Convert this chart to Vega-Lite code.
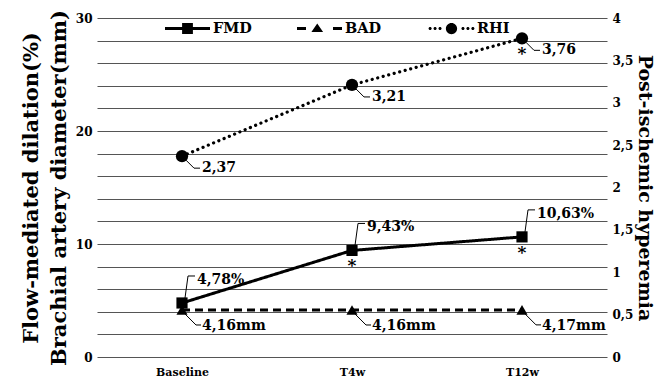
{
  "$schema": "https://vega.github.io/schema/vega-lite/v6.json",
  "width": 510,
  "height": 339,
  "autosize": {"type": "none"},
  "padding": {"left": 97, "top": 18, "right": 51, "bottom": 21},
  "background": "white",
  "config": {
    "view": {"stroke": null},
    "font": "DejaVu Serif",
    "axis": {"labelColor": "black", "titleColor": "black", "labelFont": "DejaVu Serif", "titleFont": "DejaVu Serif"}
  },
  "data": {
    "values": [
      {"series": "FMD", "time": "Baseline", "value": 4.78, "label": "4,78%", "sig": ""},
      {"series": "FMD", "time": "T4w", "value": 9.43, "label": "9,43%", "sig": "*"},
      {"series": "FMD", "time": "T12w", "value": 10.63, "label": "10,63%", "sig": "*"},
      {"series": "BAD", "time": "Baseline", "value": 4.16, "label": "4,16mm", "sig": ""},
      {"series": "BAD", "time": "T4w", "value": 4.16, "label": "4,16mm", "sig": ""},
      {"series": "BAD", "time": "T12w", "value": 4.17, "label": "4,17mm", "sig": ""},
      {"series": "RHI", "time": "Baseline", "value": 2.37, "label": "2,37", "sig": ""},
      {"series": "RHI", "time": "T4w", "value": 3.21, "label": "3,21", "sig": ""},
      {"series": "RHI", "time": "T12w", "value": 3.76, "label": "3,76", "sig": "*"}
    ]
  },
  "encoding": {
    "x": {
      "field": "time", "type": "ordinal", "sort": ["Baseline", "T4w", "T12w"],
      "scale": {"type": "point", "padding": 0.5},
      "axis": {"title": null, "labelAngle": 0, "ticks": false, "domain": false, "grid": false, "labelPadding": 9, "labelFontSize": 11, "labelFontWeight": "bold"}
    }
  },
  "layer": [
    {
      "transform": [{"filter": "datum.series !== 'RHI'"}],
      "encoding": {
        "y": {
          "field": "value", "type": "quantitative",
          "scale": {"domain": [0, 30]},
          "axis": {
            "orient": "left",
            "values": [0, 2, 4, 6, 8, 10, 12, 14, 16, 18, 20, 22, 24, 26, 28, 30],
            "labelExpr": "datum.value % 10 === 0 ? datum.label : ''",
            "grid": true, "gridColor": "#555", "gridWidth": 1.2,
            "ticks": false, "domain": false,
            "labelFontSize": 12, "labelFontWeight": "bold", "labelPadding": 5,
            "title": ["Flow-mediated dilation(%)", "Brachial artery diameter(mm)"],
            "titleFontSize": 21, "titleFontWeight": "bold", "titleLineHeight": 28, "titlePadding": 6
          }
        }
      },
      "layer": [
        {
          "mark": {"type": "line", "color": "black", "strokeWidth": 3},
          "encoding": {
            "detail": {"field": "series"},
            "strokeDash": {"field": "series", "type": "nominal", "scale": {"domain": ["FMD", "BAD"], "range": [[1, 0], [8, 5]]}, "legend": null}
          }
        },
        {
          "mark": {"type": "point", "filled": true, "color": "black", "opacity": 1, "size": 125},
          "encoding": {
            "shape": {"field": "series", "type": "nominal", "scale": {"domain": ["FMD", "BAD"], "range": ["square", "triangle-up"]}, "legend": null}
          }
        },
        {
          "transform": [{"filter": "datum.series === 'FMD'"}],
          "mark": {"type": "point", "shape": "M3,-5L6,-27L13,-27", "size": 4, "filled": false, "stroke": "black", "strokeWidth": 1, "opacity": 1}
        },
        {
          "transform": [{"filter": "datum.series === 'BAD'"}],
          "mark": {"type": "point", "shape": "M3,4L14,15L19,15", "size": 4, "filled": false, "stroke": "black", "strokeWidth": 1, "opacity": 1}
        },
        {
          "transform": [{"filter": "datum.series === 'FMD'"}],
          "mark": {"type": "text", "align": "left", "baseline": "middle", "dx": 15, "dy": -23, "fontSize": 14, "fontWeight": "bold", "color": "black"},
          "encoding": {"text": {"field": "label"}}
        },
        {
          "transform": [{"filter": "datum.series === 'BAD'"}],
          "mark": {"type": "text", "align": "left", "baseline": "middle", "dx": 20, "dy": 16, "fontSize": 14, "fontWeight": "bold", "color": "black"},
          "encoding": {"text": {"field": "label"}}
        },
        {
          "mark": {"type": "text", "align": "center", "baseline": "alphabetic", "dy": 21, "fontSize": 17, "fontWeight": "bold", "color": "black"},
          "encoding": {"text": {"field": "sig"}}
        }
      ]
    },
    {
      "transform": [{"filter": "datum.series === 'RHI'"}],
      "encoding": {
        "y": {
          "field": "value", "type": "quantitative",
          "scale": {"domain": [0, 4]},
          "axis": {
            "orient": "right",
            "values": [0, 0.5, 1, 1.5, 2, 2.5, 3, 3.5, 4],
            "labelExpr": "replace(toString(datum.value), '.', ',')",
            "grid": false, "ticks": false, "domain": false,
            "labelFontSize": 12, "labelFontWeight": "bold", "labelPadding": 5,
            "title": "Post-ischemic hyperemia",
            "titleFontSize": 19, "titleFontWeight": "bold", "titlePadding": 2
          }
        }
      },
      "layer": [
        {
          "mark": {"type": "line", "color": "black", "strokeWidth": 3.2, "strokeDash": [0.1, 5.6], "strokeCap": "round"}
        },
        {
          "mark": {"type": "point", "shape": "circle", "filled": true, "color": "black", "opacity": 1, "size": 150}
        },
        {
          "mark": {"type": "point", "shape": "M4,4L12,12L18,12", "size": 4, "filled": false, "stroke": "black", "strokeWidth": 1, "opacity": 1}
        },
        {
          "mark": {"type": "text", "align": "left", "baseline": "middle", "dx": 20, "dy": 12, "fontSize": 14, "fontWeight": "bold", "color": "black"},
          "encoding": {"text": {"field": "label"}}
        },
        {
          "mark": {"type": "text", "align": "center", "baseline": "alphabetic", "dy": 21, "fontSize": 17, "fontWeight": "bold", "color": "black"},
          "encoding": {"text": {"field": "sig"}}
        }
      ]
    },
    {
      "transform": [{"filter": "false"}],
      "mark": {"type": "point", "filled": true, "color": "black", "opacity": 1},
      "encoding": {
        "y": {"field": "value", "type": "quantitative", "axis": null},
        "shape": {
          "field": "series", "type": "nominal",
          "scale": {
            "domain": ["FMD", "BAD", "RHI"],
            "range": [
              "M-1,-0.07H1V0.07H-1Z M-0.24,-0.24H0.24V0.24H-0.24Z",
              "M-1,-0.07H-0.6V0.07H-1Z M-0.1,-0.22L0.16,0.16H-0.36Z M0.6,-0.07H1V0.07H0.6Z",
              "M-1.02,0A0.07,0.07 0 1,0 -0.88,0A0.07,0.07 0 1,0 -1.02,0Z M-0.8,0A0.07,0.07 0 1,0 -0.66,0A0.07,0.07 0 1,0 -0.8,0Z M-0.58,0A0.07,0.07 0 1,0 -0.44,0A0.07,0.07 0 1,0 -0.58,0Z M-0.25,0A0.25,0.25 0 1,0 0.25,0A0.25,0.25 0 1,0 -0.25,0Z M0.44,0A0.07,0.07 0 1,0 0.58,0A0.07,0.07 0 1,0 0.44,0Z M0.66,0A0.07,0.07 0 1,0 0.8,0A0.07,0.07 0 1,0 0.66,0Z M0.88,0A0.07,0.07 0 1,0 1.02,0A0.07,0.07 0 1,0 0.88,0Z"
            ]
          },
          "legend": {
            "title": null, "orient": "none", "legendX": 68, "legendY": -12, "direction": "horizontal",
            "symbolSize": 2025, "symbolStrokeWidth": 0, "symbolFillColor": "black", "symbolOpacity": 1,
            "labelFontSize": 14.5, "labelFontWeight": "bold", "labelFont": "DejaVu Serif", "labelColor": "black",
            "labelOffset": 3, "columnPadding": 44, "gridAlign": "all"
          }
        }
      }
    }
  ],
  "resolve": {"scale": {"y": "independent", "shape": "independent"}}
}
